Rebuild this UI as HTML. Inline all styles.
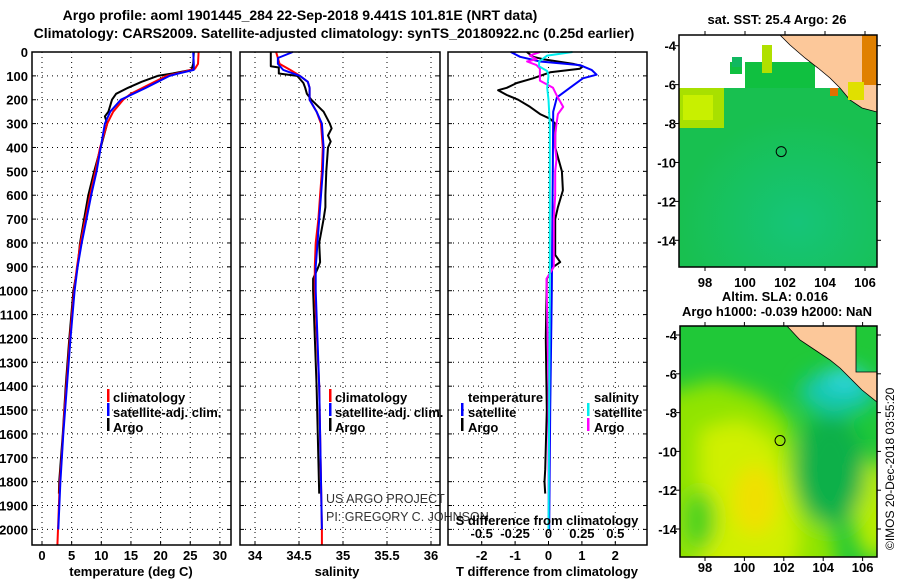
<!DOCTYPE html>
<html><head><meta charset="utf-8"><style>
html,body{margin:0;padding:0;background:#fff;}
svg{display:block;}
text{font-family:"Liberation Sans",sans-serif;font-weight:bold;fill:#000;}
</style></head><body>
<svg id="fig" width="900" height="580" viewBox="0 0 900 580" xmlns="http://www.w3.org/2000/svg">
<defs>
<radialGradient id="sstCyan" cx="0.6" cy="0.75" r="0.6"><stop offset="0" stop-color="#14c89a" stop-opacity="0.55"/><stop offset="1" stop-color="#14c89a" stop-opacity="0"/></radialGradient>
<filter id="blur12" x="-50%" y="-50%" width="200%" height="200%"><feGaussianBlur stdDeviation="10"/></filter>
<clipPath id="slaClip"><rect x="680" y="326" width="197" height="231"/></clipPath>
</defs>
<text x="300" y="20" font-size="14" text-anchor="middle">Argo profile: aoml 1901445_284 22-Sep-2018 9.441S 101.81E (NRT data)</text>
<text x="334" y="38" font-size="14" text-anchor="middle">Climatology: CARS2009. Satellite-adjusted climatology: synTS_20180922.nc (0.25d earlier)</text>
<g id="panels"></g>
<g id="maps"></g>
<text x="0" y="0" font-size="12" transform="translate(894,550) rotate(-90)" style="font-weight:normal">©IMOS 20-Dec-2018 03:55:20</text>
</svg>
<script>
// ---------- data ----------
const tempClimDepth=[0,50,70,85,100,125,150,175,200,250,300,400,500,600,700,800,900,1000,1200,1400,1500,1700,1800,2000,2065];
const tempClimVal=[26.4,26.3,25.8,23.5,21,19,17,15,13.7,12,11,9.8,9.0,8.1,7.3,6.5,5.9,5.4,4.7,4.1,3.8,3.3,3.0,2.7,2.6];
const tempSatDepth=[0,50,75,90,100,150,200,250,300,400,500,600,700,800,900,1000,1200,1400,1600,1800,2000];
const tempSatVal=[25.5,25.6,25.6,23,21.5,17.5,13.3,11.5,10.6,9.9,9.2,8.3,7.5,6.7,6.0,5.5,4.8,4.2,3.6,3.1,2.75];
const tempArgoDepth=[0,50,75,90,100,125,150,175,200,250,270,300,400,500,600,700,800,900,1000,1200,1400,1600,1800,1850];
const tempArgoVal=[25.6,25.5,25.2,22,19.5,16.8,14.5,12.5,11.8,11.2,10.6,11.0,9.9,8.8,7.8,7.1,6.4,6.0,5.3,4.6,4.0,3.5,2.9,2.85];
const salClimDepth=[0,50,75,100,125,150,200,250,300,400,500,600,700,800,900,1000,1400,2000,2065];
const salClimVal=[34.24,34.28,34.4,34.51,34.6,34.62,34.62,34.70,34.75,34.77,34.76,34.74,34.72,34.69,34.68,34.68,34.73,34.76,34.76];
const salSatDepth=[0,25,50,75,100,125,150,200,250,300,400,500,600,700,800,900,1000,1400,2000];
const salSatVal=[34.43,34.26,34.26,34.32,34.51,34.6,34.62,34.62,34.70,34.76,34.78,34.77,34.75,34.73,34.71,34.69,34.69,34.73,34.76];
const salArgoDepth=[0,60,65,90,100,130,150,175,200,250,300,320,350,375,400,500,600,650,700,800,880,900,950,1000,1400,1850];
const salArgoVal=[34.18,34.18,34.27,34.27,34.48,34.55,34.57,34.59,34.64,34.78,34.85,34.87,34.83,34.86,34.83,34.81,34.8,34.8,34.78,34.73,34.74,34.72,34.66,34.66,34.7,34.73];
const dTSatDepth=[0,20,40,55,75,95,110,150,190,250,500,1000,1500,2000];
const dTSatVal=[-1.13,-0.85,-0.25,0.94,1.29,1.44,1.03,0.64,0.25,0.14,0.13,0.1,0.05,0.02];
const dTArgoDepth=[0,20,30,50,60,70,85,110,130,150,160,180,200,230,260,280,300,400,500,580,650,700,850,880,900,950,1200,1500,1750,1800,1850];
const dTArgoVal=[-0.65,-0.46,-0.16,0.74,1.03,0.94,0.05,-0.46,-0.95,-1.25,-1.51,-1.25,-0.91,-0.55,-0.25,0.05,0.2,0.2,0.4,0.43,0.28,0.2,0.2,0.35,0.15,-0.05,-0.08,-0.05,-0.1,-0.12,-0.1];
const dSArgoDepth=[0,15,30,40,55,70,90,120,150,180,230,260,300,350,400,450,500,600,700,900,950,1400,2000];
const dSArgoVal=[-0.064,-0.14,-0.09,-0.16,-0.09,-0.064,-0.064,-0.064,0.034,0.06,0.11,0.07,0.06,0.05,0.05,0.06,0.05,0.05,0.04,0.04,-0.015,0,0];
const dSSatDepth=[0,15,40,60,80,100,150,200,300,1000,2000];
const dSSatVal=[0.18,-0.01,-0.07,-0.07,-0.01,0,-0.01,0,0.01,0.01,0];
const depthTicks=[0,100,200,300,400,500,600,700,800,900,1000,1100,1200,1300,1400,1500,1600,1700,1800,1900,2000];
const tempTicks=[0,5,10,15,20,25,30];
const salTicks=[34,34.5,35,35.5,36];
const salTickLabels=["34","34.5","35","35.5","36"];
const dTTicks=[-2,-1,0,1,2];
const dSTicks=[-0.5,-0.25,0,0.25,0.5];
const dSTickLabels=["-0.5","-0.25","0","0.25","0.5"];
const lonTicks=[98,100,102,104,106];
const latTicks=[-4,-6,-8,-10,-12,-14];

// ---------- helpers ----------
const NS="http://www.w3.org/2000/svg";
const fig=document.getElementById('fig');
const panelsG=document.getElementById('panels');
const mapsG=document.getElementById('maps');
function mk(tag,attrs,parent){const e=document.createElementNS(NS,tag);for(const k in attrs)e.setAttribute(k,attrs[k]);(parent||fig).appendChild(e);return e;}
const yTop=52,yScale=0.2387,yBottom=545;
const yD=d=>yTop+d*yScale;
const xT=v=>42+5.93*v;
const xS=v=>255+88*(v-34);
const xDT=v=>548.5+33.4*v;
const xDS=v=>548.5+133.6*v;

function panel(name){
  const g=mk('g',{},panelsG);
  
  
  return g;
}
function frame(g,x0,x1){
  const r=mk('rect',{x:x0,y:yTop,width:x1-x0,height:yBottom-yTop,fill:'none',stroke:'#000','stroke-width':1.5},g);
  
  
}
function hgrid(g,x0,x1){
  depthTicks.forEach(d=>{
    const l=mk('line',{x1:x0,x2:x1,y1:yD(d),y2:yD(d),stroke:'#000','stroke-width':1,'stroke-dasharray':'1,4'},g);
    
    
    mk('line',{x1:x0,x2:x0+4,y1:yD(d),y2:yD(d),stroke:'#000'},g);
    mk('line',{x1:x1-4,x2:x1,y1:yD(d),y2:yD(d),stroke:'#000'},g);
  });
}
function vgrid(g,ticks,xf){
  ticks.forEach(t=>{
    const l=mk('line',{x1:xf(t),x2:xf(t),y1:yTop,y2:yBottom,stroke:'#000','stroke-width':1,'stroke-dasharray':'1,4'},g);
    
    
    mk('line',{x1:xf(t),x2:xf(t),y1:yBottom-4,y2:yBottom,stroke:'#000'},g);
  });
}
function xlabels(g,ticks,labels,xf,y){
  ticks.forEach((t,i)=>{
    const tx=mk('text',{x:xf(t),y:y,'font-size':13,'text-anchor':'middle'},g);
    tx.textContent=labels?labels[i]:String(t);
    
    
  });
}
function line(g,depths,vals,xf,color,name,w){
  const pts=depths.map((d,i)=>xf(vals[i]).toFixed(1)+','+yD(d).toFixed(1)).join(' ');
  const p=mk('polyline',{points:pts,fill:'none',stroke:color,'stroke-width':w||2,'stroke-linejoin':'round'},g);
  
  
}
function txt(g,x,y,s,name,size,anchor,extra){
  const t=mk('text',Object.assign({x:x,y:y,'font-size':size||13,'text-anchor':anchor||'start'},extra||{}),g);
  t.textContent=s;
  
  
  return t;
}
function legendBar(g,x,y,color,name){
  const r=mk('rect',{x:x,y:y-11,width:2.5,height:13,fill:color},g);
  
  
}

// ---------- panel 1: temperature ----------
const p1=panel('temperature-panel');
hgrid(p1,32,231); vgrid(p1,tempTicks,xT);
line(p1,tempArgoDepth,tempArgoVal,xT,'#000','temp-argo-line');
line(p1,tempClimDepth,tempClimVal,xT,'#f00','temp-climatology-line');
line(p1,tempSatDepth,tempSatVal,xT,'#00f','temp-satellite-line');
frame(p1,32,231);
depthTicks.forEach(d=>txt(p1,28,yD(d)+5,String(d),'depth-tick-label',13,'end'));
xlabels(p1,tempTicks,null,xT,560);
txt(p1,131,576,'temperature (deg C)','x-axis-title-temperature',13,'middle');
legendBar(p1,107,400,'#f00','legend-swatch-climatology'); txt(p1,113,402,'climatology','legend-climatology');
legendBar(p1,107,414,'#00f','legend-swatch-satellite'); txt(p1,113,417,'satellite-adj. clim.','legend-satellite');
legendBar(p1,107,429,'#000','legend-swatch-argo'); txt(p1,113,432,'Argo','legend-argo');

// ---------- panel 2: salinity ----------
const p2=panel('salinity-panel');
hgrid(p2,240,440); vgrid(p2,salTicks,xS);
line(p2,salArgoDepth,salArgoVal,xS,'#000','sal-argo-line');
line(p2,salClimDepth,salClimVal,xS,'#f00','sal-climatology-line');
line(p2,salSatDepth,salSatVal,xS,'#00f','sal-satellite-line');
frame(p2,240,440);
xlabels(p2,salTicks,salTickLabels,xS,560);
txt(p2,337,576,'salinity','x-axis-title-salinity',13,'middle');
legendBar(p2,329,400,'#f00','legend-swatch-climatology'); txt(p2,335,402,'climatology','legend-climatology');
legendBar(p2,329,414,'#00f','legend-swatch-satellite'); txt(p2,335,417,'satellite-adj. clim.','legend-satellite');
legendBar(p2,329,429,'#000','legend-swatch-argo'); txt(p2,335,432,'Argo','legend-argo');
txt(p2,326,503,'US ARGO PROJECT','credit-project',12.5,'start',{style:'font-weight:normal;fill:#333'});
txt(p2,326,521,'PI: GREGORY C. JOHNSON','credit-pi',12.5,'start',{style:'font-weight:normal;fill:#333'});

// ---------- panel 3: differences ----------
const p3=panel('difference-panel');
hgrid(p3,448,647); vgrid(p3,dTTicks,xDT);
line(p3,dTArgoDepth,dTArgoVal,xDT,'#000','dT-argo-line');
line(p3,dTSatDepth,dTSatVal,xDT,'#00f','dT-satellite-line');
line(p3,dSArgoDepth,dSArgoVal,xDS,'#f0f','dS-argo-line');
line(p3,dSSatDepth,dSSatVal,xDS,'#0ee','dS-satellite-line');
frame(p3,448,647);
xlabels(p3,dTTicks,null,xDT,560);
xlabels(p3,dSTicks,dSTickLabels,xDS,538);
txt(p3,547,525,'S difference from climatology','x-axis-title-sdiff',13,'middle');
txt(p3,547,576,'T difference from climatology','x-axis-title-tdiff',13,'middle');
txt(p3,468,402,'temperature','legend-temperature-heading');
txt(p3,594,402,'salinity','legend-salinity-heading');
legendBar(p3,461,414,'#00f','legend-swatch-t-satellite'); txt(p3,468,417,'satellite','legend-t-satellite');
legendBar(p3,461,429,'#000','legend-swatch-t-argo'); txt(p3,468,432,'Argo','legend-t-argo');
legendBar(p3,587,414,'#0ee','legend-swatch-s-satellite'); txt(p3,594,417,'satellite','legend-s-satellite');
legendBar(p3,587,429,'#f0f','legend-swatch-s-argo'); txt(p3,594,432,'Argo','legend-s-argo');

// ---------- maps ----------
function mapAxes(g,x0,x1,y0,y1,lonF,latF,labelY){
  const r=mk('rect',{x:x0,y:y0,width:x1-x0,height:y1-y0,fill:'none',stroke:'#000','stroke-width':1.5},g);
  
  
  lonTicks.forEach(l=>{mk('line',{x1:lonF(l),x2:lonF(l),y1:y1,y2:y1+4,stroke:'#000'},g);mk('line',{x1:lonF(l),x2:lonF(l),y1:y0-4,y2:y0,stroke:'#000'},g);txt(g,lonF(l),labelY,String(l),'lon-tick-label',13,'middle');});
  latTicks.forEach(l=>{mk('line',{x1:x0-4,x2:x0,y1:latF(l),y2:latF(l),stroke:'#000'},g);mk('line',{x1:x1,x2:x1+4,y1:latF(l),y2:latF(l),stroke:'#000'},g);txt(g,x0-3,latF(l)+5,String(l),'lat-tick-label',13,'end');});
}
// top SST map
const m1=mk('g',{},mapsG);


const lon1=l=>705+20*(l-98), lat1=l=>45.7-19.46*(l+4);
mk('rect',{x:679,y:88,width:198,height:179,fill:'#18c050'},m1);
mk('rect',{x:679,y:88,width:198,height:179,fill:'url(#sstCyan)'},m1);
mk('rect',{x:679,y:88,width:45,height:40,fill:'#a8e000'},m1);
mk('rect',{x:683,y:95,width:30,height:25,fill:'#c8f000'},m1);
mk('rect',{x:745,y:62,width:70,height:26,fill:'#10c040'},m1);
mk('rect',{x:762,y:45,width:10,height:28,fill:'#b0e000'},m1);
mk('rect',{x:730,y:62,width:12,height:12,fill:'#10c040'},m1);
mk('rect',{x:732,y:57,width:10,height:10,fill:'#10b860'},m1);
mk('polygon',{points:'780,35 790,45 805,58 818,68 830,78 840,88 850,100 862,108 877,112 877,35',fill:'#fcc89a',stroke:'#000','stroke-width':0.8},m1);
mk('rect',{x:862,y:35,width:15,height:50,fill:'#e08000'},m1);
mk('rect',{x:848,y:82,width:16,height:18,fill:'#e0e000'},m1);
mk('rect',{x:830,y:88,width:8,height:8,fill:'#e07000'},m1);
const c1=mk('circle',{cx:lon1(101.81),cy:lat1(-9.441),r:5,fill:'none',stroke:'#000','stroke-width':1},m1);


mapAxes(m1,679,877,35,267,lon1,lat1,287);
txt(m1,777,24,'sat. SST: 25.4 Argo: 26','sst-map-title',13,'middle');
// bottom SLA map
const m2=mk('g',{},mapsG);


const lon2=l=>705+19.7*(l-98), lat2=l=>335-19.4*(l+4);
mk('rect',{x:680,y:326,width:197,height:231,fill:'#20c838'},m2);
const blobs=mk('g',{'clip-path':'url(#slaClip)'},m2);
const bl=mk('g',{filter:'url(#blur12)'},blobs);
mk('polygon',{points:'660,395 715,380 760,395 790,420 800,470 830,520 840,580 660,580',fill:'#90e400'},bl);
mk('polygon',{points:'700,430 740,420 775,440 790,490 800,540 790,575 700,575',fill:'#d0f000'},bl);
mk('ellipse',{cx:755,cy:500,rx:22,ry:35,fill:'#f0e000'},bl);
mk('ellipse',{cx:875,cy:510,rx:22,ry:50,fill:'#b8ec00'},bl);
mk('ellipse',{cx:838,cy:392,rx:38,ry:22,fill:'#18c8b0'},bl);
mk('ellipse',{cx:845,cy:378,rx:20,ry:10,fill:'#30d8e8'},bl);
mk('ellipse',{cx:830,cy:470,rx:35,ry:55,fill:'#10b048'},bl);
mk('ellipse',{cx:700,cy:520,rx:15,ry:30,fill:'#40d020'},bl);
mk('polygon',{points:'787,326 800,340 815,350 830,360 840,368 850,378 862,390 877,402 877,372 856,372 856,326',fill:'#fcc89a',stroke:'#000','stroke-width':0.8},m2);
const c2=mk('circle',{cx:lon2(101.81),cy:lat2(-9.441),r:5,fill:'none',stroke:'#000','stroke-width':1},m2);


mapAxes(m2,680,877,326,557,lon2,lat2,572);
txt(m2,775,301,'Altim. SLA: 0.016','sla-map-title',13,'middle');
txt(m2,777,316,'Argo h1000: -0.039 h2000: NaN','sla-map-subtitle',13,'middle');
</script>
</body></html>
